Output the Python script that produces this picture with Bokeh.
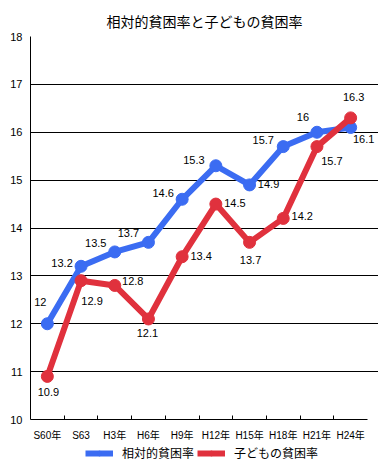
from bokeh.plotting import figure
from bokeh.layouts import column
from bokeh.models import (ColumnDataSource, FixedTicker, Legend, LegendItem, Range1d, Grid)
from bokeh.core.properties import value
from bokeh.embed import file_html
from bokeh.resources import INLINE

categories = ["S60年", "S63", "H3年", "H6年", "H9年", "H12年", "H15年", "H18年", "H21年", "H24年"]
relative_poverty = [12.0, 13.2, 13.5, 13.7, 14.6, 15.3, 14.9, 15.7, 16.0, 16.1]
child_poverty = [10.9, 12.9, 12.8, 12.1, 13.4, 14.5, 13.7, 14.2, 15.7, 16.3]
y_ticks = [10, 11, 12, 13, 14, 15, 16, 17, 18]
series_names = ["相対的貧困率", "子どもの貧困率"]

# label placement (screen pixel offsets)
blue_dx = [-7, -19, -19, -20, -19, -22, 19, -20, -14, 13]
blue_dy = [-22, -3, -9, -9, -6, -6, -1, -7, -15, 12]
red_dx = [1, 11, 18, -1, 19, 19, 1, 19, 15, 3]
red_dy = [16, 20, -4, 14, -1, -1, 18, -2, 14, -21]

FONT = "Liberation Sans, Noto Sans CJK JP"
BLUE = "#3b6cf2"
RED = "#e0313d"
BORDER = "#9a9a9a"

n = len(categories)
xs = [i + 0.5 for i in range(n)]
# extra room right of the last category so that the end label is not clipped
x_end = n * 348 / 337

p = figure(width=378, height=443, output_backend="svg", toolbar_location=None,
           x_range=Range1d(0, x_end), y_range=Range1d(10, 18),
           min_border_left=30, min_border_right=0, min_border_top=36,
           min_border_bottom=23)

p.title.text = "相対的貧困率と子どもの貧困率"
p.title.align = "center"
p.title.offset = -5
p.title.text_font = "Noto Sans CJK JP"
p.title.text_font_size = "14px"
p.title.text_font_style = "normal"
p.title.text_color = "black"
p.title.standoff = 12

p.outline_line_color = None

# y axis
p.yaxis.ticker = FixedTicker(ticks=y_ticks)
p.yaxis.major_tick_in = 0
p.yaxis.major_tick_out = 0
p.yaxis.minor_tick_line_color = None
p.yaxis.axis_line_color = "black"
p.yaxis.major_label_text_font = FONT
p.yaxis.major_label_text_font_size = "11px"
p.yaxis.major_label_text_color = "black"
p.yaxis.major_label_standoff = 8
p.ygrid.ticker = FixedTicker(ticks=y_ticks[1:-1])
p.ygrid.grid_line_color = "black"
p.ygrid.grid_line_width = 1
p.ygrid.bounds = (0, n)
p.add_layout(Grid(dimension=1, ticker=FixedTicker(ticks=[y_ticks[-1]]), bounds=(0, n),
                  grid_line_color=BORDER, grid_line_width=1))
p.add_layout(Grid(dimension=0, ticker=FixedTicker(ticks=[n]),
                  grid_line_color=BORDER, grid_line_width=1))

# x axis: labels at category centres, tick marks at category boundaries
p.xaxis.ticker = FixedTicker(ticks=xs, minor_ticks=list(range(1, n)))
p.xaxis.major_label_overrides = {x: c for x, c in zip(xs, categories)}
p.xaxis.bounds = (0, n)
p.xaxis.major_tick_in = 0
p.xaxis.major_tick_out = 0
p.xaxis.minor_tick_in = 4
p.xaxis.minor_tick_out = 0
p.xaxis.minor_tick_line_color = "black"
p.xaxis.axis_line_color = "black"
p.xaxis.major_label_text_font = FONT
p.xaxis.major_label_text_font_size = "10px"
p.xaxis.major_label_text_color = "black"
p.xaxis.major_label_standoff = 10
p.xgrid.grid_line_color = None

src = ColumnDataSource(dict(x=xs, blue=relative_poverty, red=child_poverty,
                            blue_t=[f"{v:g}" for v in relative_poverty],
                            red_t=[f"{v:g}" for v in child_poverty],
                            bdx=blue_dx, bdy=blue_dy, rdx=red_dx, rdy=red_dy))

p.line("x", "blue", source=src, line_color=BLUE, line_width=6)
p.scatter("x", "blue", source=src, size=12, fill_color=BLUE, line_color=BLUE)
p.line("x", "red", source=src, line_color=RED, line_width=6)
p.scatter("x", "red", source=src, size=12, fill_color=RED, line_color=RED)

p.text("x", "blue", text="blue_t", source=src, x_offset="bdx", y_offset="bdy",
       text_align="center", text_baseline="middle", text_font_size="11px",
       text_font=value(FONT), text_color="black")
p.text("x", "red", text="red_t", source=src, x_offset="rdx", y_offset="rdy",
       text_align="center", text_baseline="middle", text_font_size="11px",
       text_font=value(FONT), text_color="black")

# legend strip below the chart (its series renderers lie outside its visible range)
lg = figure(width=378, height=20, output_backend="svg", toolbar_location=None,
            x_range=Range1d(0, 1), y_range=Range1d(0, 1), x_axis_type=None, y_axis_type=None,
            min_border=0)
lg.outline_line_color = None
lg.grid.grid_line_color = None
lbl = lg.line("x", "blue", source=src, line_color=BLUE, line_width=6)
lbs = lg.scatter("x", "blue", source=src, size=12, fill_color=BLUE, line_color=BLUE)
lrl = lg.line("x", "red", source=src, line_color=RED, line_width=6)
lrs = lg.scatter("x", "red", source=src, size=12, fill_color=RED, line_color=RED)
legend = Legend(items=[LegendItem(label=series_names[0], renderers=[lbl, lbs]),
                       LegendItem(label=series_names[1], renderers=[lrl, lrs])],
                orientation="horizontal", location=(55, 2),
                glyph_width=28, glyph_height=12, label_standoff=9, spacing=3,
                label_height=12,
                padding=0, margin=0, border_line_color=None,
                background_fill_alpha=0,
                label_text_font="Noto Sans CJK JP", label_text_font_size="12px",
                label_text_color="black")
lg.add_layout(legend)

layout = column(p, lg, spacing=0)
open("out.html", "w").write(file_html(layout, INLINE))
